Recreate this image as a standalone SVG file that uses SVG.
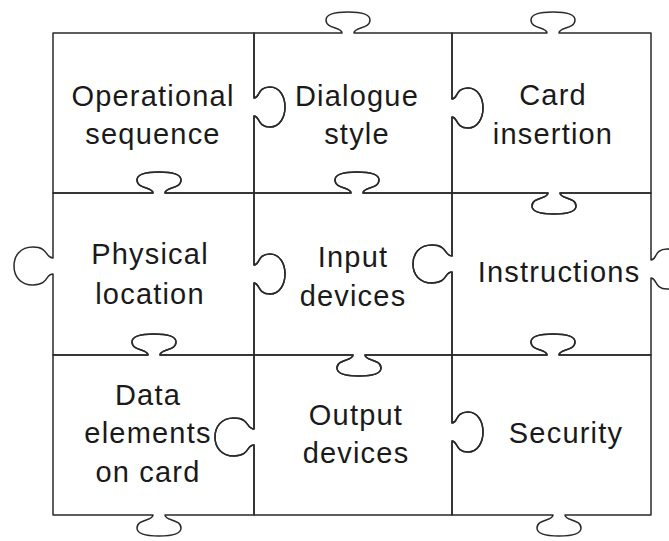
<svg xmlns="http://www.w3.org/2000/svg" width="669" height="541" viewBox="0 0 669 541">
<style>
.piece{fill:none;stroke:#2a2a2a;stroke-width:1.5;stroke-linejoin:round}
.lbl{font-family:"Liberation Sans",Arial,Helvetica,sans-serif;font-size:29px;letter-spacing:1.2px;fill:#1a1a1a;text-anchor:middle}
</style>
<rect width="669" height="541" fill="#ffffff"/>
<g id="operational-sequence">
<path class="piece" d="M53,33 H254 V98 c6,0 3,-11 16,-11 c10,0 15,10 15,20 c0,10 -5,20 -15,20 c-13,0 -10,-11 -16,-11 V193 H165 c0,-6 16,-4 16,-13 c0,-7 -11,-8 -22,-8 c-11,0 -22,1 -22,8 c0,9 16,7 16,13 H53 Z"/>
<text class="lbl" x="153" y="106">Operational</text>
<text class="lbl" x="153" y="144">sequence</text>
</g>
<g id="dialogue-style">
<path class="piece" d="M254,33 H342 c0,-6 -16,-4 -16,-13 c0,-7 11,-8 22,-8 c11,0 22,1 22,8 c0,9 -16,7 -16,13 H452 V99 c6,0 3,-11 16,-11 c10,0 15,10 15,20 c0,10 -5,20 -15,20 c-13,0 -10,-11 -16,-11 V193 H363 c0,-6 16,-4 16,-13 c0,-7 -11,-8 -22,-8 c-11,0 -22,1 -22,8 c0,9 16,7 16,13 H254 V116 c6,0 3,11 16,11 c10,0 15,-10 15,-20 c0,-10 -5,-20 -15,-20 c-13,0 -10,11 -16,11 Z"/>
<text class="lbl" x="357" y="106">Dialogue</text>
<text class="lbl" x="357" y="144">style</text>
</g>
<g id="card-insertion">
<path class="piece" d="M452,33 H547 c0,-6 -16,-4 -16,-13 c0,-7 11,-8 22,-8 c11,0 22,1 22,8 c0,9 -16,7 -16,13 H651 V193 H560 c0,6 16,4 16,13 c0,7 -11,8 -22,8 c-11,0 -22,-1 -22,-8 c0,-9 16,-7 16,-13 H452 V117 c6,0 3,11 16,11 c10,0 15,-10 15,-20 c0,-10 -5,-20 -15,-20 c-13,0 -10,11 -16,11 Z"/>
<text class="lbl" x="553" y="105">Card</text>
<text class="lbl" x="553" y="144">insertion</text>
</g>
<g id="physical-location">
<path class="piece" d="M53,193 H153 c0,-6 -16,-4 -16,-13 c0,-7 11,-8 22,-8 c11,0 22,1 22,8 c0,9 -16,7 -16,13 H254 V265 c6,0 3,-11 16,-11 c10,0 15,10 15,20 c0,10 -5,20 -15,20 c-13,0 -10,-11 -16,-11 V355 H160 c0,-6 16,-4 16,-13 c0,-7 -11,-8 -22,-8 c-11,0 -22,1 -22,8 c0,9 16,7 16,13 H53 V274 c-8,0 -4,11 -20,11 c-13,0 -19,-9 -19,-19 c0,-10 6,-19 19,-19 c16,0 12,11 20,11 Z"/>
<text class="lbl" x="150" y="264">Physical</text>
<text class="lbl" x="150" y="304">location</text>
</g>
<g id="input-devices">
<path class="piece" d="M254,193 H351 c0,-6 -16,-4 -16,-13 c0,-7 11,-8 22,-8 c11,0 22,1 22,8 c0,9 -16,7 -16,13 H452 V256 c-8,0 -4,-11 -20,-11 c-13,0 -19,9 -19,19 c0,10 6,19 19,19 c16,0 12,-11 20,-11 V355 H365 c0,6 16,4 16,13 c0,7 -11,8 -22,8 c-11,0 -22,-1 -22,-8 c0,-9 16,-7 16,-13 H254 V283 c6,0 3,11 16,11 c10,0 15,-10 15,-20 c0,-10 -5,-20 -15,-20 c-13,0 -10,11 -16,11 Z"/>
<text class="lbl" x="353" y="267">Input</text>
<text class="lbl" x="353" y="306">devices</text>
</g>
<g id="instructions">
<path class="piece" d="M452,193 H548 c0,6 -16,4 -16,13 c0,7 11,8 22,8 c11,0 22,-1 22,-8 c0,-9 -16,-7 -16,-13 H651 V260 c6,0 3,-11 16,-11 c10,0 15,10 15,20 c0,10 -5,20 -15,20 c-13,0 -10,-11 -16,-11 V355 H559 c0,-6 16,-4 16,-13 c0,-7 -11,-8 -22,-8 c-11,0 -22,1 -22,8 c0,9 16,7 16,13 H452 V272 c-8,0 -4,11 -20,11 c-13,0 -19,-9 -19,-19 c0,-10 6,-19 19,-19 c16,0 12,11 20,11 Z"/>
<text class="lbl" x="559" y="282">Instructions</text>
</g>
<g id="data-elements-on-card">
<path class="piece" d="M53,355 H148 c0,-6 -16,-4 -16,-13 c0,-7 11,-8 22,-8 c11,0 22,1 22,8 c0,9 -16,7 -16,13 H254 V429 c-8,0 -4,-11 -20,-11 c-13,0 -19,9 -19,19 c0,10 6,19 19,19 c16,0 12,-11 20,-11 V515 H165 c0,6 16,4 16,13 c0,7 -11,8 -22,8 c-11,0 -22,-1 -22,-8 c0,-9 16,-7 16,-13 H53 Z"/>
<text class="lbl" x="148" y="405">Data</text>
<text class="lbl" x="148" y="443">elements</text>
<text class="lbl" x="148" y="482">on card</text>
</g>
<g id="output-devices">
<path class="piece" d="M254,355 H353 c0,6 -16,4 -16,13 c0,7 11,8 22,8 c11,0 22,-1 22,-8 c0,-9 -16,-7 -16,-13 H452 V423 c6,0 3,-11 16,-11 c10,0 15,10 15,20 c0,10 -5,20 -15,20 c-13,0 -10,-11 -16,-11 V515 H254 V445 c-8,0 -4,11 -20,11 c-13,0 -19,-9 -19,-19 c0,-10 6,-19 19,-19 c16,0 12,11 20,11 Z"/>
<text class="lbl" x="356" y="425">Output</text>
<text class="lbl" x="356" y="463">devices</text>
</g>
<g id="security">
<path class="piece" d="M452,355 H547 c0,-6 -16,-4 -16,-13 c0,-7 11,-8 22,-8 c11,0 22,1 22,8 c0,9 -16,7 -16,13 H651 V515 H565 c0,6 16,4 16,13 c0,7 -11,8 -22,8 c-11,0 -22,-1 -22,-8 c0,-9 16,-7 16,-13 H452 V441 c6,0 3,11 16,11 c10,0 15,-10 15,-20 c0,-10 -5,-20 -15,-20 c-13,0 -10,11 -16,11 Z"/>
<text class="lbl" x="566" y="443">Security</text>
</g>
<g id="connectors"/>
</svg>
